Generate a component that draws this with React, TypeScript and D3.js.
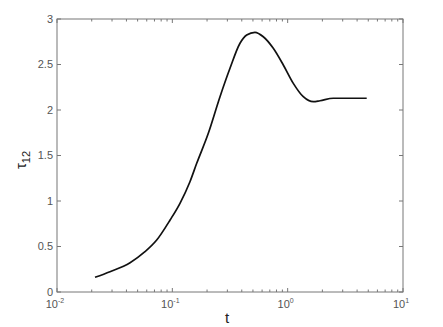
import React from "react";
import * as d3 from "d3";

const tValues = [0.02136, 0.0288, 0.043, 0.0579, 0.0732, 0.0956, 0.1165, 0.1422, 0.1627, 0.2051, 0.259, 0.3162, 0.3861, 0.4414, 0.5208, 0.6147, 0.7504, 0.9166, 1.119, 1.366, 1.668, 1.907, 2.488, 4.845];
const tauValues = [0.1615, 0.223, 0.322, 0.443, 0.571, 0.791, 0.975, 1.212, 1.414, 1.744, 2.146, 2.458, 2.733, 2.824, 2.854, 2.805, 2.678, 2.495, 2.293, 2.146, 2.091, 2.102, 2.129, 2.129];
const yTicks = [0, 0.5, 1, 1.5, 2, 2.5, 3];
const yTickLabels = ["0", "0.5", "1", "1.5", "2", "2.5", "3"];
const xDecades = [-2, -1, 0, 1];

const W = 443, H = 327;
const M = { left: 57, right: 403, top: 19, bottom: 292 };
const gray = "#555";

export default function App() {
  const x = d3.scaleLog().domain([0.01, 10]).range([M.left, M.right]);
  const y = d3.scaleLinear().domain([0, 3]).range([M.bottom, M.top]);
  const data = tValues.map((t, i) => [t, tauValues[i]] as [number, number]);
  const line = d3.line<[number, number]>().x(d => x(d[0])).y(d => y(d[1])).curve(d3.curveMonotoneX);
  const minor: number[] = [];
  for (let e = -2; e < 1; e++) for (let k = 2; k <= 9; k++) minor.push(k * Math.pow(10, e));
  const font = "Liberation Sans, Arial, sans-serif";
  return (
    <svg width={W} height={H} style={{ position: "absolute", left: 0, top: 0 }} fontFamily={font}>
      <rect x={0} y={0} width={W} height={H} fill="#fff" />
      <rect x={M.left} y={M.top} width={M.right - M.left} height={M.bottom - M.top} fill="none" stroke="#777" strokeWidth={1} />
      {yTicks.map((v, i) => (
        <g key={"y" + i}>
          <line x1={M.left} x2={M.left + 4} y1={y(v)} y2={y(v)} stroke="#777" />
          <line x1={M.right} x2={M.right - 4} y1={y(v)} y2={y(v)} stroke="#777" />
          <text x={M.left - 4} y={y(v)} dy="0.35em" textAnchor="end" fontSize={11} fill={gray}>{yTickLabels[i]}</text>
        </g>
      ))}
      {xDecades.map(e => (
        <g key={"x" + e}>
          <line x1={x(Math.pow(10, e))} x2={x(Math.pow(10, e))} y1={M.bottom} y2={M.bottom - 4} stroke="#777" />
          <line x1={x(Math.pow(10, e))} x2={x(Math.pow(10, e))} y1={M.top} y2={M.top + 4} stroke="#777" />
          <text x={x(Math.pow(10, e)) - 2} y={M.bottom + 16} textAnchor="middle" fontSize={11} fill={gray}>10
            <tspan fontSize={7} dy={-5} fill={gray}>{e}</tspan>
          </text>
        </g>
      ))}
      {minor.map((v, i) => (
        <g key={"m" + i}>
          <line x1={x(v)} x2={x(v)} y1={M.bottom} y2={M.bottom - 2.5} stroke="#777" />
          <line x1={x(v)} x2={x(v)} y1={M.top} y2={M.top + 2.5} stroke="#777" />
        </g>
      ))}
      <path d={line(data) || ""} fill="none" stroke="#111" strokeWidth={1.7} />
      <text x={227} y={323} textAnchor="middle" fontSize={15} fill="#222">t</text>
      <text transform={`translate(26,160) rotate(-90)`} textAnchor="middle" fontSize={15} fill="#222">τ<tspan fontSize={11} dy={4}>12</tspan></text>
    </svg>
  );
}
